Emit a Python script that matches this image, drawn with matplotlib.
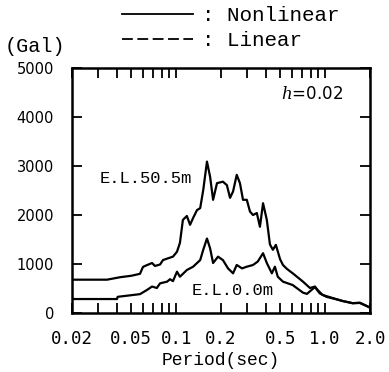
import matplotlib
matplotlib.use("Agg")
import matplotlib.pyplot as plt
from matplotlib.lines import Line2D
from matplotlib.ticker import FixedLocator, NullFormatter

# ---- data ----
period_upper = [0.02, 0.0344, 0.042, 0.05, 0.0572, 0.0599, 0.0618, 0.0689, 0.0721, 0.078,
                0.0816, 0.087, 0.0952, 0.1013, 0.106, 0.111, 0.118, 0.124, 0.130, 0.138,
                0.145, 0.152, 0.161, 0.169, 0.177, 0.188, 0.206, 0.219, 0.230, 0.241,
                0.255, 0.268, 0.281, 0.298, 0.313, 0.328, 0.348, 0.365, 0.383, 0.406,
                0.426, 0.446, 0.467, 0.498, 0.521, 0.554, 0.606, 0.71, 0.791, 0.854,
                0.89, 0.96, 1.12, 1.31, 1.53, 1.71, 1.94, 2.0]
accel_upper = [680, 680, 730, 760, 800, 940, 960, 1020, 960, 990,
               1080, 1110, 1150, 1250, 1430, 1900, 1980, 1800, 1940, 2100,
               2140, 2510, 3090, 2780, 2310, 2650, 2680, 2610, 2350, 2480,
               2820, 2650, 2310, 2310, 2070, 2000, 2040, 1760, 2240, 1900,
               1400, 1290, 1390, 1100, 980, 900, 810, 640, 510, 540,
               470, 370, 306, 245, 200, 210, 130, 110]

period_lower = [0.02, 0.0401, 0.0405, 0.0572, 0.0637, 0.0689, 0.0742, 0.078, 0.087, 0.091,
                0.0952, 0.1013, 0.106, 0.118, 0.130, 0.145, 0.152, 0.161, 0.169, 0.177,
                0.191, 0.206, 0.223, 0.241, 0.255, 0.277, 0.298, 0.328, 0.353, 0.383,
                0.406, 0.439, 0.46, 0.481, 0.521, 0.606, 0.71, 0.755, 0.854, 0.92,
                1.02, 1.12, 1.31, 1.53, 1.71, 1.94, 2.0]
accel_lower = [285, 285, 330, 385, 470, 540, 510, 605, 640, 690,
               650, 843, 740, 877, 945, 1080, 1290, 1520, 1320, 1020,
               1150, 1080, 910, 810, 980, 910, 945, 980, 1050, 1220,
               1020, 810, 945, 740, 640, 570, 415, 390, 530, 400,
               330, 300, 245, 200, 205, 130, 110]

xtick_values = [0.02, 0.05, 0.1, 0.2, 0.5, 1.0, 2.0]
xtick_labels = ["0.02", "0.05", "0.1", "0.2", "0.5", "1.0", "2.0"]
ytick_values = [0, 1000, 2000, 3000, 4000, 5000]
ytick_labels = ["0", "1000", "2000", "3000", "4000", "5000"]
minor_values = [0.03, 0.04, 0.06, 0.07, 0.08, 0.09,
                0.3, 0.4, 0.6, 0.7, 0.8, 0.9]

plt.rcParams['mathtext.fontset'] = 'dejavuserif'

fig = plt.figure(figsize=(3.89, 3.72), dpi=100)
ax = fig.add_axes([72/389, 1-313/372, 298/389, 245/372])

lw = 1.6
ax.plot(period_upper, accel_upper, color='black', lw=lw)
ax.plot(period_lower, accel_lower, color='black', lw=lw)

ax.set_xscale('log')
ax.set_xlim(0.02, 2.0)
ax.set_ylim(0, 5000)

ax.xaxis.set_major_locator(FixedLocator(xtick_values))
ax.set_xticklabels(xtick_labels, fontfamily='DejaVu Sans Mono', fontsize=12.5)
ax.xaxis.set_minor_locator(FixedLocator(minor_values))
ax.xaxis.set_minor_formatter(NullFormatter())
ax.set_yticks(ytick_values)
ax.set_yticklabels(ytick_labels, fontfamily='DejaVu Sans', fontsize=10.5)

ax.tick_params(axis='x', which='both', direction='in', top=True, bottom=True,
               length=7, width=1.3, color='black', pad=12)
ax.tick_params(axis='y', which='major', direction='in', left=True, right=True,
               length=7, width=1.3, color='black', pad=13)

for s in ax.spines.values():
    s.set_linewidth(1.8)

ax.set_xlabel("Period(sec)", fontfamily='Liberation Mono', fontsize=13, labelpad=3)

ax.text(0.0308, 2755, "E.L.50.5m", fontfamily='Liberation Mono', fontsize=12.3,
        ha='left', va='center')
ax.text(0.127, 450, "E.L.0.0m", fontfamily='Liberation Mono', fontsize=12.3,
        ha='left', va='center')
ax.text(1.31, 4470, r"$h$=0.02", fontfamily='DejaVu Sans', fontsize=12,
        ha='right', va='center')

fig.text(5/389, 1-47/372, "(Gal)", fontfamily='Liberation Mono', fontsize=14.5,
         ha='left', va='center')

handles = [Line2D([], [], color='black', lw=1.3),
           Line2D([], [], color='black', lw=1.3, dashes=(6, 2.5))]
leg = fig.legend(handles, [": Nonlinear", ": Linear"], loc='upper left',
                 bbox_to_anchor=(122/389, 1-6/372), frameon=False,
                 prop={'family': 'Liberation Mono', 'size': 15},
                 handlelength=3.4, handletextpad=0.45, labelspacing=0.3,
                 borderpad=0, borderaxespad=0)

fig.savefig("out.png", dpi=100)
